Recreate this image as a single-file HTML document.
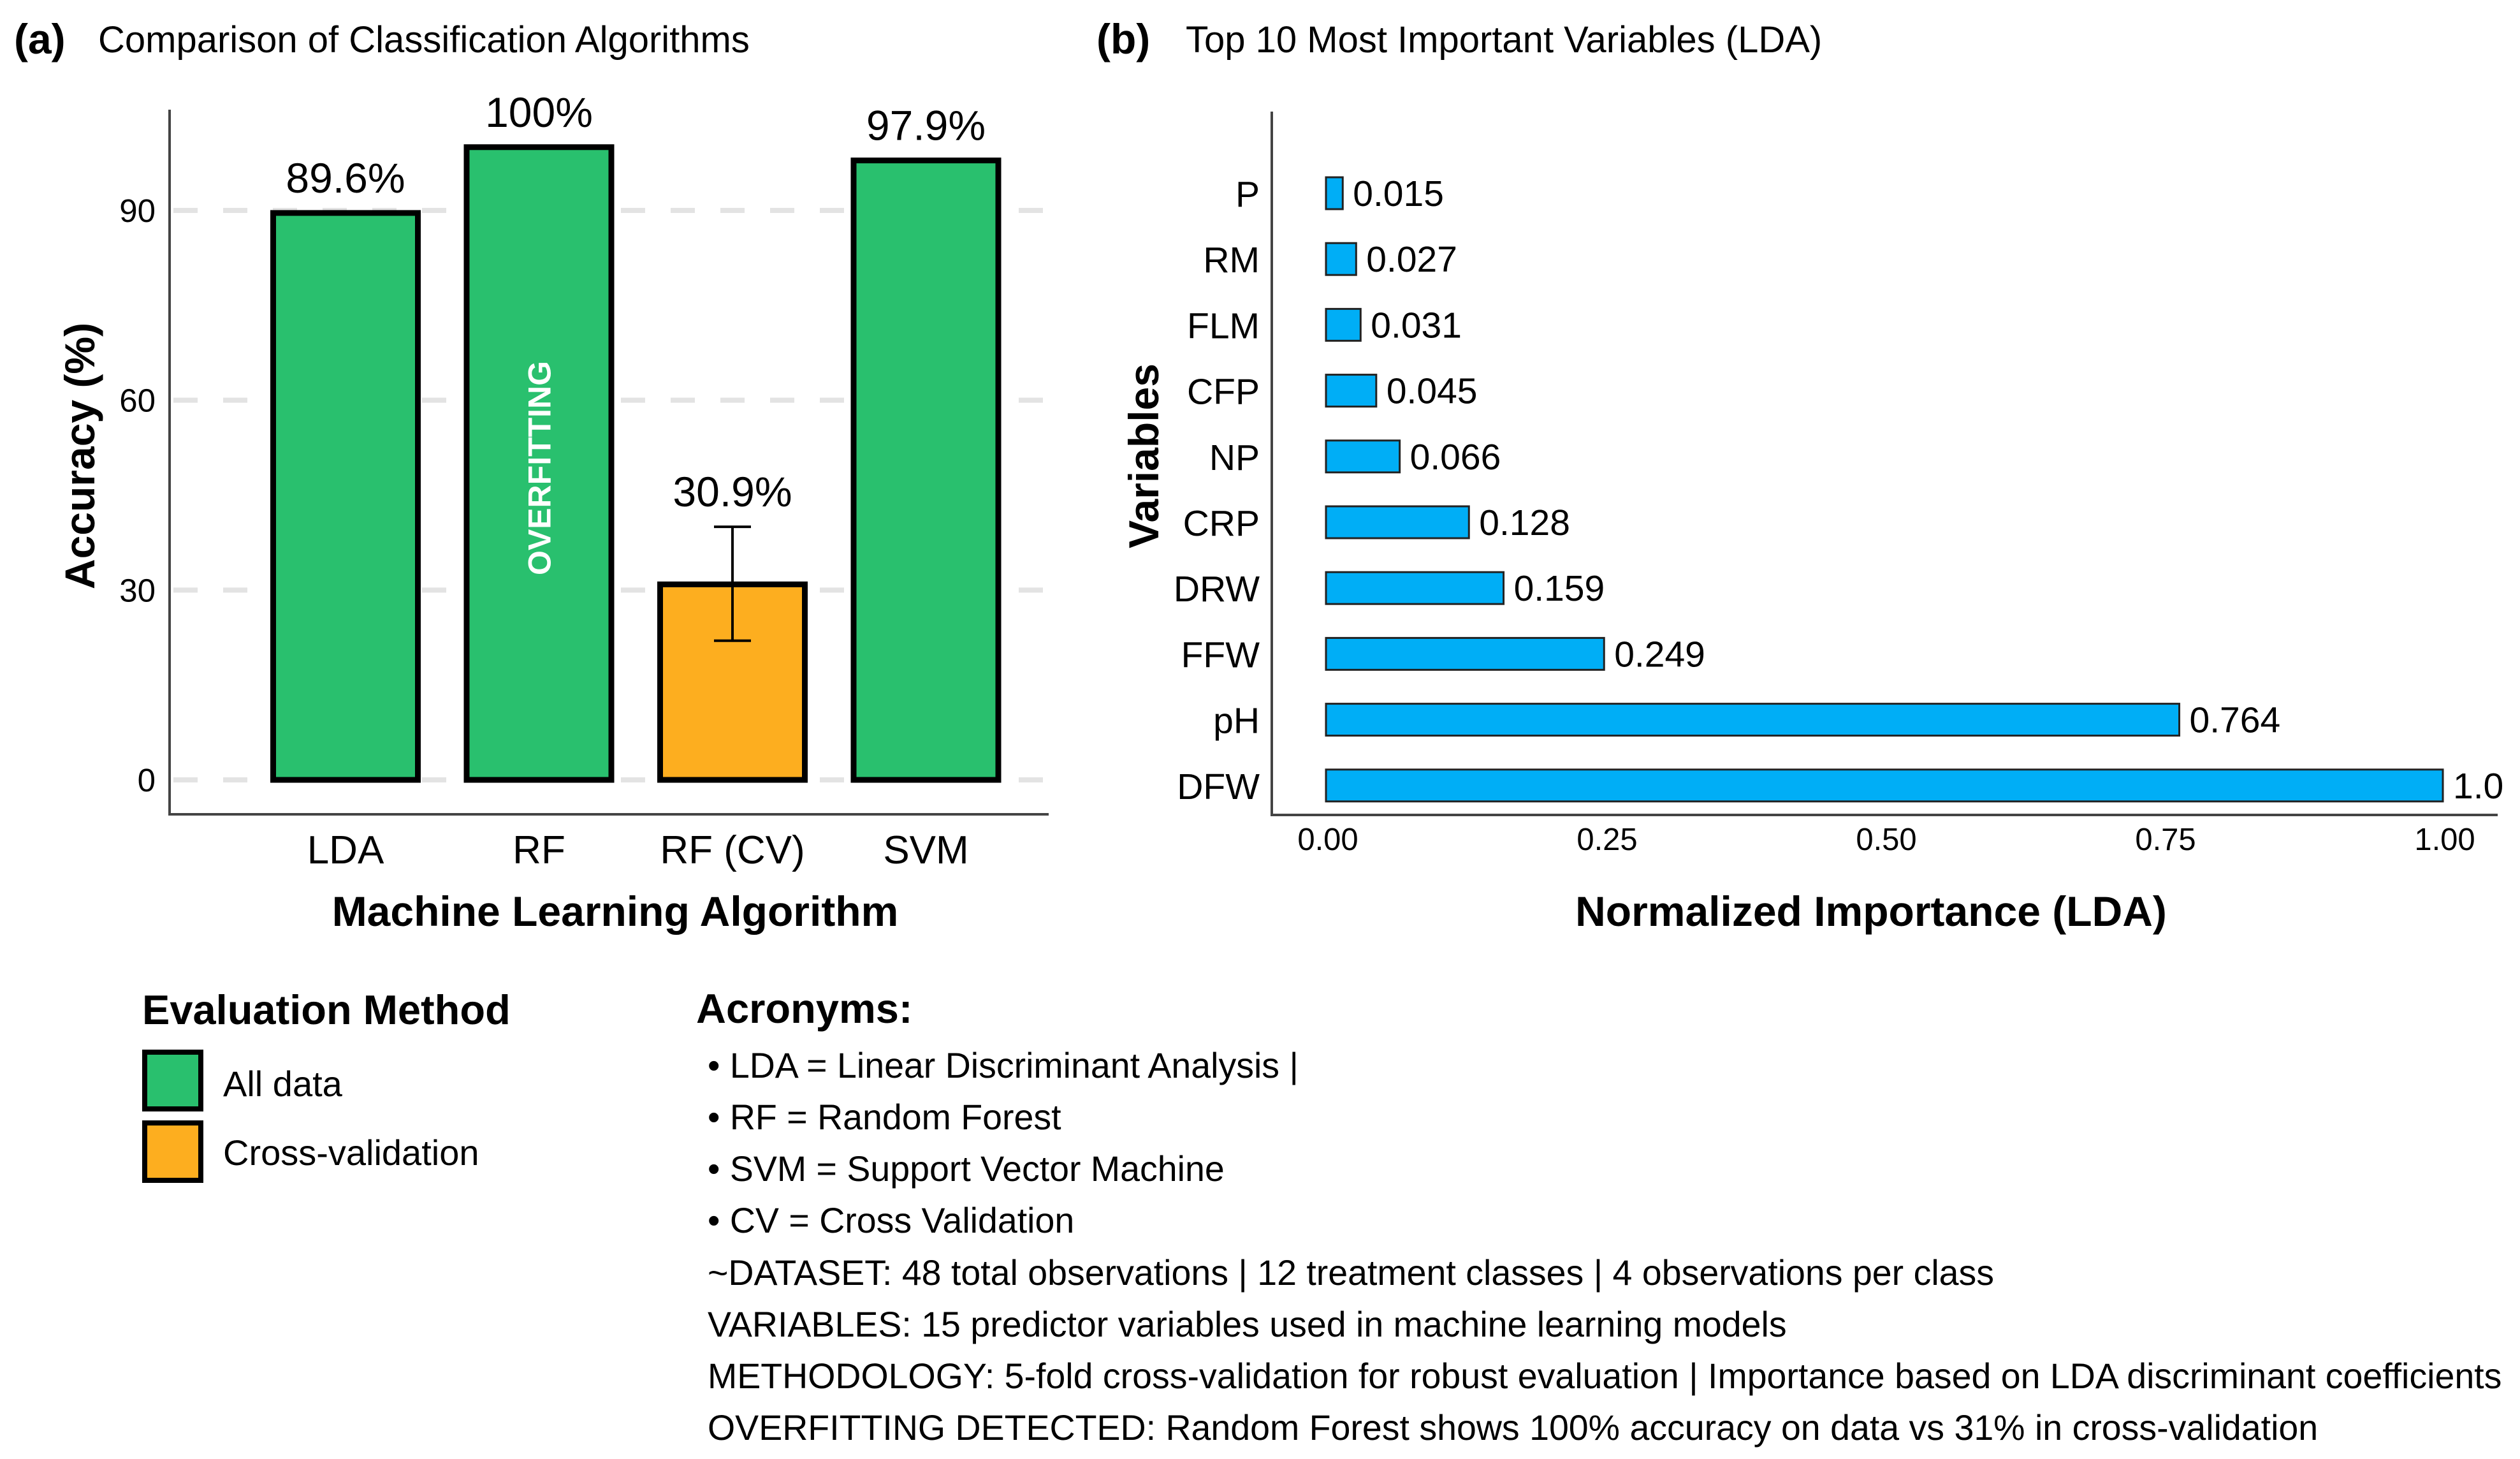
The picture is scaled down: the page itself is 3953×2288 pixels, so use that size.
<!DOCTYPE html>
<html><head><meta charset="utf-8">
<style>
html,body{margin:0;padding:0;background:#fff;}
svg{display:block;font-family:"Liberation Sans",Arial,sans-serif;}
</style></head>
<body>
<svg id="fig" width="3953" height="2288" viewBox="0 0 3953 2288" xmlns="http://www.w3.org/2000/svg">
  <rect width="3953" height="2288" fill="#fff"/>
  <text x="22" y="84" font-size="66" font-weight="bold">(a)</text>
  <text x="154" y="82" font-size="58">Comparison of Classification Algorithms</text>
  <text x="1720" y="84" font-size="66" font-weight="bold">(b)</text>
  <text x="1860" y="82" font-size="58">Top 10 Most Important Variables (LDA)</text>
  <g id="chartA"></g>
  <g id="chartB"></g>

  <g>
    <text x="223" y="1606" font-size="65" font-weight="bold">Evaluation Method</text>
    <rect x="227" y="1650" width="88" height="89" fill="#29c06e" stroke="#000" stroke-width="8"/>
    <text x="350" y="1719" font-size="56">All data</text>
    <rect x="227" y="1761" width="88" height="90" fill="#fdae1f" stroke="#000" stroke-width="8"/>
    <text x="350" y="1827" font-size="56">Cross-validation</text>
  </g>
  <g font-size="55.5">
    <text x="1092" y="1604" font-size="65" font-weight="bold">Acronyms:</text>
    <text x="1110" y="1690">• LDA = Linear Discriminant Analysis |</text>
    <text x="1110" y="1771">• RF = Random Forest</text>
    <text x="1110" y="1852">• SVM = Support Vector Machine</text>
    <text x="1110" y="1933">• CV = Cross Validation</text>
    <text x="1110" y="2015">~DATASET: 48 total observations | 12 treatment classes | 4 observations per class</text>
    <text x="1110" y="2096">VARIABLES: 15 predictor variables used in machine learning models</text>
    <text x="1110" y="2177">METHODOLOGY: 5-fold cross-validation for robust evaluation | Importance based on LDA discriminant coefficients</text>
    <text x="1110" y="2258">OVERFITTING DETECTED: Random Forest shows 100% accuracy on data vs 31% in cross-validation</text>
  </g>
</svg>
<script>
const NS="http://www.w3.org/2000/svg";
// Panel A data
const algCategories=["LDA","RF","RF (CV)","SVM"];
const algAccuracy=[89.6,100,30.9,97.9];
const algLabels=["89.6%","100%","30.9%","97.9%"];
const algMethod=["all","all","cv","all"];
const algErrLow=[null,null,22,null];
const algErrHigh=[null,null,40,null];
const accTicks=[0,30,60,90];
// Panel B data
const varNames=["P","RM","FLM","CFP","NP","CRP","DRW","FFW","pH","DFW"];
const varImportance=[0.015,0.027,0.031,0.045,0.066,0.128,0.159,0.249,0.764,1.0];
const varLabels=["0.015","0.027","0.031","0.045","0.066","0.128","0.159","0.249","0.764","1.0"];
const impTicks=[0,0.25,0.5,0.75,1.0];
const impTickLabels=["0.00","0.25","0.50","0.75","1.00"];

function mk(tag,attrs,parent,text){const e=document.createElementNS(NS,tag);for(const k in attrs)e.setAttribute(k,attrs[k]);if(text!=null)e.textContent=text;parent.appendChild(e);return e;}

// ---- Panel A ----
(function(){
const g=document.getElementById('chartA');
const yS=v=>1223-v*(1223-330)/90;
const xS=i=>542+i*303.5;
const bw=227;
accTicks.forEach(t=>{
  const l=mk('line',{x1:272,x2:1645,y1:yS(t),y2:yS(t),stroke:'#e3e3e3','stroke-width':8,'stroke-dasharray':'38 40'},g);
  
  
  const tx=mk('text',{x:244,y:yS(t)+18,'font-size':51,'text-anchor':'end'},g,String(t));
  
  
});
algCategories.forEach((c,i)=>{
  const v=algAccuracy[i];
  const r=mk('rect',{x:xS(i)-bw/2,y:yS(v),width:bw,height:yS(0)-yS(v),fill:algMethod[i]==='cv'?'#fdae1f':'#29c06e',stroke:'#000','stroke-width':9},g);
  
  
  let top=yS(v);
  if(algErrHigh[i]!=null){
    const eg=mk('g',{stroke:'#000','stroke-width':4},g);
    
    
    mk('line',{x1:xS(i),x2:xS(i),y1:yS(algErrHigh[i]),y2:yS(algErrLow[i])},eg);
    mk('line',{x1:xS(i)-29,x2:xS(i)+29,y1:yS(algErrHigh[i]),y2:yS(algErrHigh[i])},eg);
    mk('line',{x1:xS(i)-29,x2:xS(i)+29,y1:yS(algErrLow[i]),y2:yS(algErrLow[i])},eg);
    top=yS(algErrHigh[i]);
  }
  const vl=mk('text',{x:xS(i),y:top-32,'font-size':66,'text-anchor':'middle'},g,algLabels[i]);
  
  
  const cl=mk('text',{x:xS(i),y:1354,'font-size':62,'text-anchor':'middle'},g,c);
  
  
});
const ov=mk('text',{x:0,y:0,'font-size':50,'font-weight':'bold',fill:'#fff','text-anchor':'middle',transform:`translate(${xS(1)+18},734) rotate(-90)`},g,'OVERFITTING');


const ax=mk('path',{d:'M266 172 V1277 H1645',fill:'none',stroke:'#444','stroke-width':4},g);


const xt=mk('text',{x:965,y:1452,'font-size':66,'font-weight':'bold','text-anchor':'middle'},g,'Machine Learning Algorithm');


const yt=mk('text',{x:0,y:0,'font-size':66,'font-weight':'bold','text-anchor':'middle',transform:'translate(148,715) rotate(-90)'},g,'Accuracy (%)');


})();

// ---- Panel B ----
(function(){
const g=document.getElementById('chartB');
const xS=v=>2080+v*(3832-2080);
const yS=i=>303+i*103.2;
const bh=50;
varNames.forEach((n,i)=>{
  const v=varImportance[i];
  const r=mk('rect',{x:xS(0),y:yS(i)-bh/2,width:xS(v)-xS(0),height:bh,fill:'#00aef6',stroke:'#222','stroke-width':3},g);
  
  
  const vl=mk('text',{x:xS(v)+16,y:yS(i)+20,'font-size':57},g,varLabels[i]);
  
  
  const nl=mk('text',{x:1976,y:yS(i)+21,'font-size':57,'text-anchor':'end'},g,n);
  
  
});
impTicks.forEach((t,k)=>{
  const tl=mk('text',{x:xS(t)+3,y:1333,'font-size':49,'text-anchor':'middle'},g,impTickLabels[k]);
  
  
});
const ax=mk('path',{d:'M1995 175 V1278 H3918',fill:'none',stroke:'#444','stroke-width':4},g);


const xt=mk('text',{x:2935,y:1452,'font-size':66,'font-weight':'bold','text-anchor':'middle'},g,'Normalized Importance (LDA)');


const yt=mk('text',{x:0,y:0,'font-size':66,'font-weight':'bold','text-anchor':'middle',transform:'translate(1817,715) rotate(-90)'},g,'Variables');


})();
</script>
</body></html>
